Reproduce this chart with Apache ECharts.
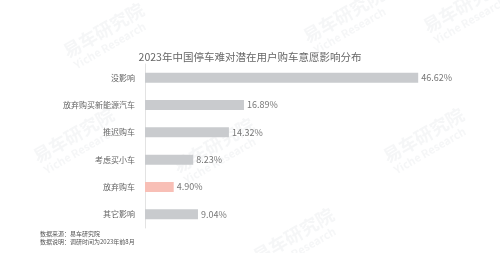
<!DOCTYPE html>
<html><head><meta charset="utf-8">
<script src="https://cdn.jsdelivr.net/npm/echarts@6/dist/echarts.min.js"></script>
<style>html,body{margin:0;padding:0;background:#fff}#c{width:500px;height:253px}</style>
</head><body><div id="c"></div>
<script>
const categories = ['没影响','放弃购买新能源汽车','推迟购车','考虑买小车','放弃购车','其它影响'];
const values = [46.62, 16.89, 14.32, 8.23, 4.90, 9.04];
const highlightIndex = 4;
const titleText = '2023年中国停车难对潜在用户购车意愿影响分布';
const footer1 = '数据来源：易车研究院';
const footer2 = '数据说明：调研时间为2023年前8月';

const chart = echarts.init(document.getElementById('c'), null, {renderer:'canvas'});
const font = '"Noto Sans CJK SC", "Noto Sans", sans-serif';
const wm = [];
[[60,45],[300,30],[30,150],[170,160],[380,150],[420,20],[250,250]].forEach(p=>{
  wm.push({type:'text', x:p[0], y:p[1], rotation:Math.PI/6, z:-1, silent:true,
    style:{text:'易车研究院', fill:'rgba(200,205,210,0.18)', font:'bold 18px '+font}});
  wm.push({type:'text', x:p[0]+12, y:p[1]+16, rotation:Math.PI/6, z:-1, silent:true,
    style:{text:'Yiche Research', fill:'rgba(200,205,210,0.18)', font:'bold 11px '+font}});
});
chart.setOption({
  animation:false,
  title:{text:titleText, left:'center', top:47, textStyle:{fontSize:10.5, fontWeight:'normal', color:'#666', fontFamily:font}},
  grid:{left:145, top:64, width:293, height:164, containLabel:false},
  xAxis:{type:'value', min:0, max:50, show:false},
  yAxis:{type:'category', data:categories, inverse:true,
    axisLine:{show:true, lineStyle:{color:'#e3e3e3', width:1}},
    axisTick:{show:false},
    axisLabel:{color:'#666', fontSize:8, margin:10, fontFamily:font}},
  series:[{type:'bar', barWidth:10,
    data: values.map((v,i)=>({value:v, itemStyle:{color: i===highlightIndex ? '#f8bfb6' : '#c9cbce'}})),
    label:{show:true, position:'right', distance:3, color:'#777', fontSize:9, fontFamily:font,
      formatter:p=>p.value.toFixed(2)+'%'}}],
  graphic: wm.concat([
    {type:'text', left:40, top:231, style:{text:footer1, fill:'#555', font:'6px '+font}},
    {type:'text', left:40, top:239, style:{text:footer2, fill:'#555', font:'6px '+font}}
  ])
});
</script></body></html>
